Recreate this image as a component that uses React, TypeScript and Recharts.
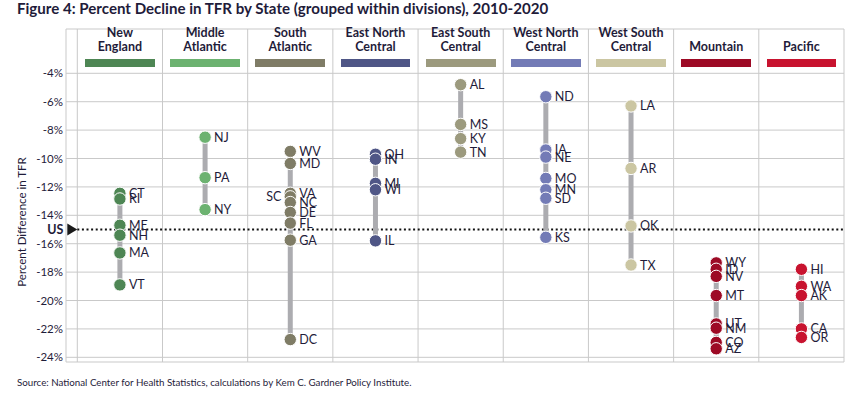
import React from 'react';
import { ScatterChart, Scatter, XAxis, YAxis, CartesianGrid, ReferenceLine } from 'recharts';

const divisions = [
  'New England',
  'Middle Atlantic',
  'South Atlantic',
  'East North Central',
  'East South Central',
  'West North Central',
  'West South Central',
  'Mountain',
  'Pacific',
];
const divisionLines = [
  ['New', 'England'],
  ['Middle', 'Atlantic'],
  ['South', 'Atlantic'],
  ['East North', 'Central'],
  ['East South', 'Central'],
  ['West North', 'Central'],
  ['West South', 'Central'],
  ['', 'Mountain'],
  ['', 'Pacific'],
];
const divisionColors = ['#4e8654', '#6cb270', '#7f7c66', '#4f5686', '#9c9a7e', '#737bb6', '#cbc6a2', '#9d0a25', '#c8132f'];

const newEngland = [
  { state: 'CT', value: -12.45 },
  { state: 'RI', value: -12.85 },
  { state: 'ME', value: -14.7 },
  { state: 'NH', value: -15.4 },
  { state: 'MA', value: -16.65 },
  { state: 'VT', value: -18.9 },
];
const middleAtlantic = [
  { state: 'NJ', value: -8.5 },
  { state: 'PA', value: -11.35 },
  { state: 'NY', value: -13.6 },
];
const southAtlantic = [
  { state: 'WV', value: -9.5 },
  { state: 'MD', value: -10.35 },
  { state: 'VA', value: -12.45 },
  { state: 'SC', value: -12.7 },
  { state: 'NC', value: -13.1 },
  { state: 'DE', value: -13.8 },
  { state: 'FL', value: -14.55 },
  { state: 'GA', value: -15.75 },
  { state: 'DC', value: -22.75 },
];
const eastNorthCentral = [
  { state: 'OH', value: -9.7 },
  { state: 'IN', value: -10.05 },
  { state: 'MI', value: -11.75 },
  { state: 'WI', value: -12.2 },
  { state: 'IL', value: -15.8 },
];
const eastSouthCentral = [
  { state: 'AL', value: -4.8 },
  { state: 'MS', value: -7.6 },
  { state: 'KY', value: -8.6 },
  { state: 'TN', value: -9.55 },
];
const westNorthCentral = [
  { state: 'ND', value: -5.65 },
  { state: 'IA', value: -9.4 },
  { state: 'NE', value: -9.9 },
  { state: 'MO', value: -11.4 },
  { state: 'MN', value: -12.2 },
  { state: 'SD', value: -12.8 },
  { state: 'KS', value: -15.55 },
];
const westSouthCentral = [
  { state: 'LA', value: -6.3 },
  { state: 'AR', value: -10.7 },
  { state: 'OK', value: -14.75 },
  { state: 'TX', value: -17.5 },
];
const mountain = [
  { state: 'WY', value: -17.35 },
  { state: 'ID', value: -17.8 },
  { state: 'NV', value: -18.3 },
  { state: 'MT', value: -19.65 },
  { state: 'UT', value: -21.65 },
  { state: 'NM', value: -21.95 },
  { state: 'CO', value: -22.95 },
  { state: 'AZ', value: -23.4 },
];
const pacific = [
  { state: 'HI', value: -17.8 },
  { state: 'WA', value: -19.0 },
  { state: 'AK', value: -19.65 },
  { state: 'CA', value: -22.0 },
  { state: 'OR', value: -22.6 },
];

const usValue = -15;
const yTicks = [-4, -6, -8, -10, -12, -14, -16, -18, -20, -22, -24];
const xTicks = [0, 1, 2, 3, 4, 5, 6, 7, 8, 9];
const leftLabels = ['SC'];

const groups = [newEngland, middleAtlantic, southAtlantic, eastNorthCentral, eastSouthCentral, westNorthCentral, westSouthCentral, mountain, pacific];

const TEXT = '#1f1c3a';
const FONT = 'Lato, "Open Sans", sans-serif';

const makeShape = (color: string) => (props: any) => {
  const { cx, cy, payload } = props;
  const left = leftLabels.includes(payload.state);
  return (
    <g>
      <circle cx={cx} cy={cy} r={6.2} fill={color} stroke="#fff" strokeWidth={1} />
      <text
        x={left ? cx - 9 : cx + 9}
        y={cy + 4.5}
        textAnchor={left ? 'end' : 'start'}
        fontSize={12.5}
        fill={TEXT}
        fontFamily={FONT}
      >
        {payload.state}
      </text>
    </g>
  );
};

const UsLabel = (props: any) => {
  const { viewBox } = props;
  const x = viewBox.x;
  const y = viewBox.y;
  return (
    <g>
      <polygon points={`${x - 10},${y - 6} ${x},${y} ${x - 10},${y + 6}`} fill="#1a1a1a" />
      <text x={x - 14} y={y + 4.5} textAnchor="end" fontSize={12.5} fontWeight={700} fill={TEXT} fontFamily={FONT}>
        US
      </text>
    </g>
  );
};

export default function App() {
  return (
    <div style={{ position: 'absolute', left: 0, top: 0, width: 867, height: 393, background: '#fff', fontFamily: FONT, color: TEXT }}>
      <div style={{ position: 'absolute', left: 17, top: -1.5, fontSize: 15.1, fontWeight: 700, whiteSpace: 'nowrap' }}>
        Figure 4: Percent Decline in TFR by State (grouped within divisions), 2010-2020
      </div>
      <ScatterChart width={867} height={393} margin={{ top: 29, right: 23, bottom: 31, left: 0 }}>
        <CartesianGrid stroke="#c9c9c9" strokeWidth={1} />
        <XAxis type="number" dataKey="x" domain={[-0.1327, 9]} ticks={xTicks} allowDataOverflow hide />
        <YAxis
          type="number"
          dataKey="y"
          width={66}
          domain={[-24.33, -0.88]}
          ticks={yTicks}
          allowDataOverflow
          axisLine={false}
          tickLine={false}
          tickSize={0}
          tickMargin={3}
          tickFormatter={(v: number) => `${v}%`}
          tick={{ fontSize: 11.5, fill: TEXT, fontFamily: FONT }}
          label={(p: any) => (
            <text
              transform="rotate(-90, 23, 222)"
              x={23}
              y={222}
              textAnchor="middle"
              dominantBaseline="middle"
              fontSize={11.5}
              fill={TEXT}
              fontFamily={FONT}
            >
              Percent Difference in TFR
            </text>
          )}
        />
        <ReferenceLine
          segment={[{ x: 0, y: usValue }, { x: 9, y: usValue }]}
          stroke="#111"
          strokeWidth={2}
          strokeDasharray="2 2.6"
          label={<UsLabel />}
        />
        {groups.map((g, i) => (
          <Scatter
            key={divisions[i]}
            name={divisions[i]}
            data={g.map((d) => ({ x: i + 0.5, y: d.value, state: d.state }))}
            fill={divisionColors[i]}
            line={{ stroke: '#acacb0', strokeWidth: 5 }}
            lineType="joint"
            shape={makeShape(divisionColors[i])}
            isAnimationActive={false}
          />
        ))}
      </ScatterChart>
      <div style={{ position: 'absolute', left: 77.3, top: 0, width: 766.7, display: 'flex' }}>
        {divisionLines.map((lines, i) => (
          <div key={i} style={{ width: 85.19, position: 'relative', height: 70 }}>
            <div style={{ position: 'absolute', top: 26, left: 0, right: 0, textAlign: 'center', fontSize: 12.5, fontWeight: 700, lineHeight: '14px' }}>
              <div style={{ height: 14 }}>{lines[0]}</div>
              <div>{lines[1]}</div>
            </div>
            <div style={{ position: 'absolute', top: 59.3, left: 7.8, right: 7.6, height: 7.4, background: divisionColors[i] }} />
          </div>
        ))}
      </div>
      <div style={{ position: 'absolute', left: 17, top: 376, fontSize: 9.75, whiteSpace: 'nowrap' }}>
        Source: National Center for Health Statistics, calculations by Kem C. Gardner Policy Institute.
      </div>
    </div>
  );
}
